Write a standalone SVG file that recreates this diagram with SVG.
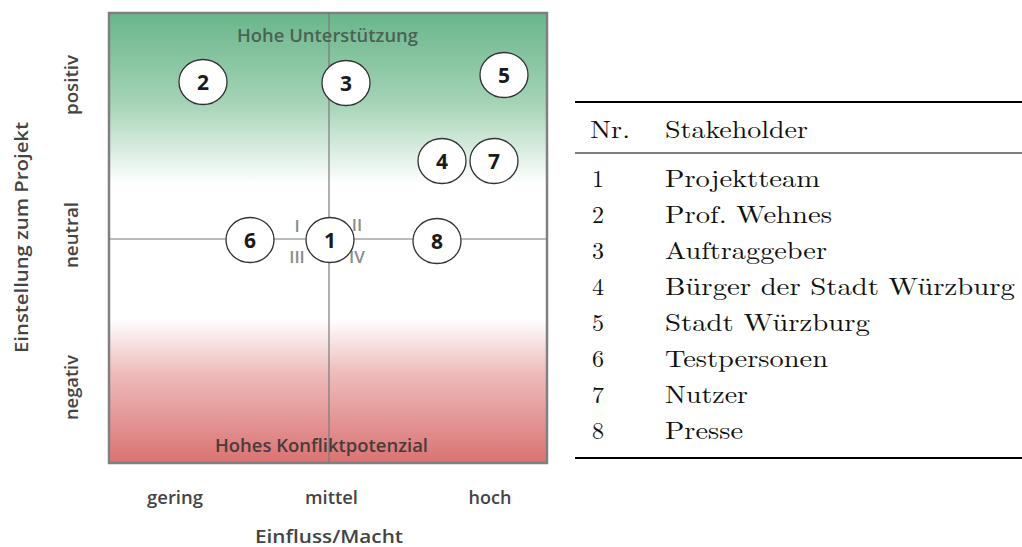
<svg xmlns="http://www.w3.org/2000/svg" width="1022" height="547" viewBox="0 0 1022 547">
  <defs>
    <linearGradient id="bg" x1="0" y1="0" x2="0" y2="1">
      <stop offset="0" stop-color="#69b68b"/>
      <stop offset="0.2" stop-color="#a5d3b6"/>
      <stop offset="0.38" stop-color="#ffffff"/>
      <stop offset="0.68" stop-color="#ffffff"/>
      <stop offset="0.8" stop-color="#eebcbc"/>
      <stop offset="1" stop-color="#da7272"/>
    </linearGradient>
    <style>
      .ax { font-family: "Open Sans", "Liberation Sans", sans-serif; font-weight: 600; fill: #444444; font-size: 18px; }
      .node ellipse { fill: #ffffff; stroke: #333333; stroke-width: 1.3; }
      .node text { font-family: "Open Sans", "Liberation Sans", sans-serif; font-weight: 700; font-size: 21px; fill: #1a1a1a; text-anchor: middle; }
      .roman { font-family: "Open Sans", "Liberation Sans", sans-serif; font-weight: 600; font-size: 17px; fill: #8c8c8c; text-anchor: middle; }
      .tb { font-family: "Latin Modern Roman", "Liberation Serif", serif; font-size: 24px; fill: #111111; }
      .rule { stroke: #000000; }
    </style>
  </defs>

  <!-- portfolio matrix -->
  <g id="matrix">
    <rect x="109" y="13" width="438" height="450" fill="url(#bg)" stroke="#808080" stroke-width="2.5"/>
    <line x1="329" y1="13" x2="329" y2="463" stroke="#7a7a7a" stroke-width="1.2"/>
    <line x1="109" y1="239" x2="547" y2="239" stroke="#7a7a7a" stroke-width="1.2"/>
    <text class="ax" x="237" y="42" textLength="181" lengthAdjust="spacingAndGlyphs" style="fill:#4b6256">Hohe Unterstützung</text>
    <text class="ax" x="215" y="452" textLength="213" lengthAdjust="spacingAndGlyphs" style="fill:#4a3b3b">Hohes Konfliktpotenzial</text>
    <text class="roman" x="297" y="232">I</text>
    <text class="roman" x="357" y="231">II</text>
    <text class="roman" x="297" y="263">III</text>
    <text class="roman" x="357" y="263">IV</text>
  </g>

  <!-- axis labels -->
  <g id="axes">
    <text class="ax" transform="translate(78,115) rotate(-90)" textLength="60" lengthAdjust="spacingAndGlyphs">positiv</text>
    <text class="ax" transform="translate(78,268) rotate(-90)" textLength="66" lengthAdjust="spacingAndGlyphs">neutral</text>
    <text class="ax" transform="translate(78,420) rotate(-90)" textLength="65" lengthAdjust="spacingAndGlyphs">negativ</text>
    <text class="ax" transform="translate(28,353) rotate(-90)" textLength="231" lengthAdjust="spacingAndGlyphs">Einstellung zum Projekt</text>
    <text class="ax" x="147" y="504" textLength="56" lengthAdjust="spacingAndGlyphs">gering</text>
    <text class="ax" x="305" y="504" textLength="53" lengthAdjust="spacingAndGlyphs">mittel</text>
    <text class="ax" x="490" y="504" text-anchor="middle">hoch</text>
    <text class="ax" x="255" y="543" textLength="148" lengthAdjust="spacingAndGlyphs">Einfluss/Macht</text>
  </g>

  <!-- stakeholders -->
  <g id="n2" class="node"><ellipse cx="203" cy="82" rx="24" ry="22.5"/><text x="203" y="90">2</text></g>
  <g id="n3" class="node"><ellipse cx="346" cy="83" rx="24" ry="22.5"/><text x="346" y="91">3</text></g>
  <g id="n5" class="node"><ellipse cx="504" cy="75" rx="24" ry="22.5"/><text x="504" y="83">5</text></g>
  <g id="n4" class="node"><ellipse cx="442" cy="161" rx="24" ry="22.5"/><text x="442" y="169">4</text></g>
  <g id="n7" class="node"><ellipse cx="494" cy="161" rx="24" ry="22.5"/><text x="494" y="169">7</text></g>
  <g id="n6" class="node"><ellipse cx="250" cy="240" rx="24" ry="22.5"/><text x="250" y="248">6</text></g>
  <g id="n1" class="node"><ellipse cx="330" cy="240" rx="24" ry="22.5"/><text x="330" y="248">1</text></g>
  <g id="n8" class="node"><ellipse cx="437" cy="241" rx="24" ry="22.5"/><text x="437" y="249">8</text></g>

  <!-- legend table -->
  <g id="legend">
    <line class="rule" x1="575" y1="102" x2="1022" y2="102" stroke-width="2"/>
    <line class="rule" x1="575" y1="153" x2="1022" y2="153" stroke-width="1.2"/>
    <line class="rule" x1="575" y1="458" x2="1022" y2="458" stroke-width="2"/>
    <text class="tb" x="590" y="138" textLength="40" lengthAdjust="spacingAndGlyphs">Nr.</text>
    <text class="tb" x="665" y="138" textLength="143" lengthAdjust="spacingAndGlyphs">Stakeholder</text>
    <text class="tb" x="592" y="187">1</text>
    <text class="tb" x="665" y="187" textLength="155" lengthAdjust="spacingAndGlyphs">Projektteam</text>
    <text class="tb" x="592" y="223">2</text>
    <text class="tb" x="665" y="223" textLength="167" lengthAdjust="spacingAndGlyphs">Prof. Wehnes</text>
    <text class="tb" x="592" y="259">3</text>
    <text class="tb" x="665" y="259" textLength="162" lengthAdjust="spacingAndGlyphs">Auftraggeber</text>
    <text class="tb" x="592" y="295">4</text>
    <text class="tb" x="665" y="295" textLength="350" lengthAdjust="spacingAndGlyphs">Bürger der Stadt Würzburg</text>
    <text class="tb" x="592" y="331">5</text>
    <text class="tb" x="665" y="331" textLength="205" lengthAdjust="spacingAndGlyphs">Stadt Würzburg</text>
    <text class="tb" x="592" y="367">6</text>
    <text class="tb" x="665" y="367" textLength="163" lengthAdjust="spacingAndGlyphs">Testpersonen</text>
    <text class="tb" x="592" y="403">7</text>
    <text class="tb" x="665" y="403" textLength="83" lengthAdjust="spacingAndGlyphs">Nutzer</text>
    <text class="tb" x="592" y="439">8</text>
    <text class="tb" x="665" y="439" textLength="78" lengthAdjust="spacingAndGlyphs">Presse</text>
  </g>
</svg>
